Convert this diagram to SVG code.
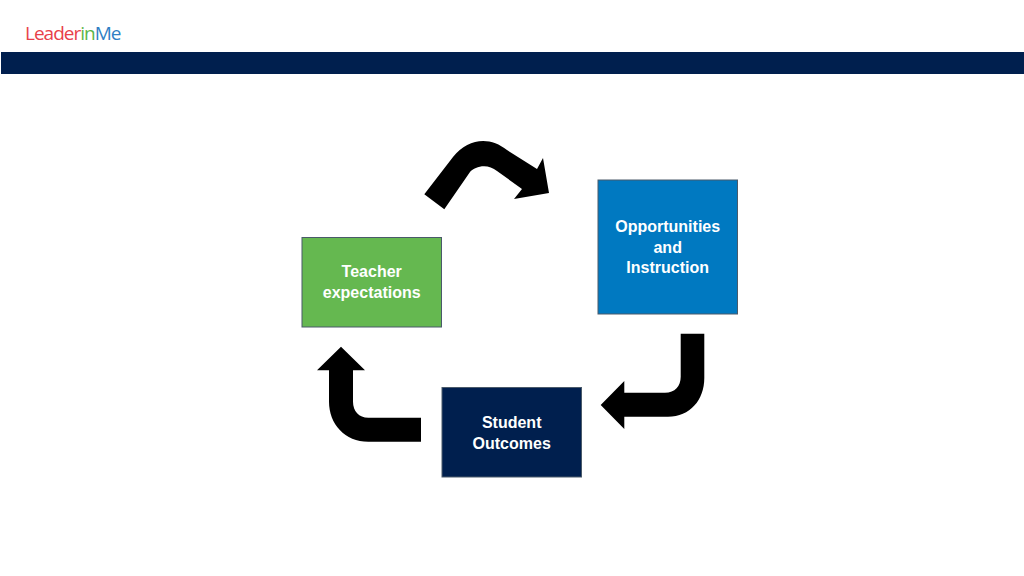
<svg xmlns="http://www.w3.org/2000/svg" width="1024" height="576" viewBox="0 0 1024 576">
<style>
.box{stroke:#4a5a6a;stroke-width:1}
.lbl{font-family:"Liberation Sans",Arial,sans-serif;font-weight:700;font-size:16px;fill:#fff;text-anchor:middle}
.arr{fill:#000}
.logo{font-family:"Open Sans","Liberation Sans",sans-serif;font-size:19px;letter-spacing:-1px}
</style>
<rect width="1024" height="576" fill="#fff"/>
<g id="logo"><text class="logo" x="25" y="40"><tspan fill="#e8414a">Leader</tspan><tspan fill="#5cb548">in</tspan><tspan fill="#2f7fc4">Me</tspan></text></g>
<rect id="banner" x="1" y="52" width="1023" height="22" fill="#001f4e"/>
<g id="connectors">
<path class="arr" d="M424.300 194.300L444.300 209.300L470 172C475 166 488 163 497 171L522 189L514 199L549 193L543 158L537 169L507 150C490 136 468 138 453 157Z"/>
<path class="arr" d="M680.700 333.700H704.300V378C704.300 400 690 416.700 668 416.700H624.300V429L600.700 405L624.300 381V392.700H665C675 392.700 680.700 386 680.700 376.700Z"/>
<path class="arr" d="M341 346.700L365 370.300H353V401.700C353 411 359 417.700 368.300 417.700H421V441.700H368.300C345 441.700 329 424 329 401.700V370.300H317Z"/>
</g>
<g id="teacher"><rect class="box" x="302" y="237.500" width="139.500" height="89.500" fill="#65b850"/><text class="lbl" x="371.700" y="277">Teacher</text><text class="lbl" x="371.700" y="298">expectations</text></g>
<g id="opportunities"><rect class="box" x="598" y="180" width="139.500" height="134" fill="#0079c1"/><text class="lbl" x="667.700" y="232">Opportunities</text><text class="lbl" x="667.700" y="252.500">and</text><text class="lbl" x="667.700" y="273">Instruction</text></g>
<g id="outcomes"><rect class="box" x="442" y="387.500" width="139.500" height="89.500" fill="#001f4e"/><text class="lbl" x="511.700" y="428">Student</text><text class="lbl" x="511.700" y="448.500">Outcomes</text></g>
</svg>
